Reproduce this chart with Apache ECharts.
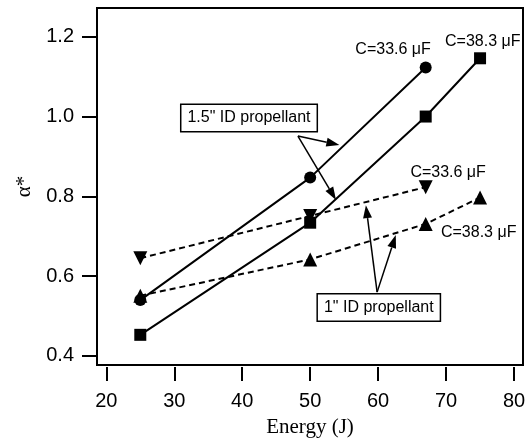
<!DOCTYPE html>
<html>
<head>
<meta charset="utf-8">
<script src="https://cdn.jsdelivr.net/npm/echarts@6/dist/echarts.min.js"></script>
<style>
html, body { margin: 0; padding: 0; background: #fff; }
#chart { width: 531px; height: 444px; }
</style>
</head>
<body>
<div id="chart"></div>
<script>
// tick labels
var xTicks = [20, 30, 40, 50, 60, 70, 80];
var yTicks = [0.4, 0.6, 0.8, 1.0, 1.2];

// 1.5" ID propellant, C=33.6 uF (circles)
var circE = [25, 50, 67];
var circA = [0.540, 0.847, 1.123];
// 1.5" ID propellant, C=38.3 uF (squares)
var sqE = [25, 50, 67, 75];
var sqA = [0.453, 0.734, 1.000, 1.146];
// 1" ID propellant, C=33.6 uF (down triangles)
var downE = [25, 50, 67];
var downA = [0.645, 0.751, 0.823];
// 1" ID propellant, C=38.3 uF (up triangles)
var upE = [25, 50, 67, 75];
var upA = [0.551, 0.642, 0.731, 0.797];

// annotations, in data coordinates
var capLabels = [
  { text: 'C=33.6 μF', x: 62.2, y: 1.169 },
  { text: 'C=38.3 μF', x: 75.4, y: 1.189 },
  { text: 'C=33.6 μF', x: 70.3, y: 0.859 },
  { text: 'C=38.3 μF', x: 74.8, y: 0.708 }
];
var boxes = [
  { text: '1.5" ID propellant', x: 41.0, y: 0.9965, from: [48.2, 0.951], to: [[54.3, 0.929], [53.8, 0.791]] },
  { text: '1" ID propellant', x: 60.1, y: 0.5216, from: [59.85, 0.560], to: [[58.2, 0.778], [62.6, 0.703]] }
];

function pairs(xs, ys) {
  return xs.map(function (x, i) { return [x, ys[i]]; });
}

var SANS = '"Liberation Sans", Arial, sans-serif';
var SERIF = '"Liberation Serif", "Times New Roman", serif';

var chart = echarts.init(document.getElementById('chart'));

function lineSeries(name, data, symbol, rotate, dashed) {
  return {
    name: name,
    type: 'line',
    data: data,
    symbol: symbol,
    symbolSize: symbol === 'triangle' ? 14 : 12,
    symbolRotate: rotate,
    showAllSymbol: true,
    animation: false,
    itemStyle: { color: '#000' },
    lineStyle: { color: '#000', width: 2, type: dashed ? [6, 4] : 'solid' }
  };
}

chart.setOption({
  animation: false,
  backgroundColor: '#fff',
  grid: {
    left: 97, right: 8, top: 8, bottom: 79,
    show: true, borderColor: '#000', borderWidth: 2, backgroundColor: 'transparent'
  },
  xAxis: {
    type: 'value',
    min: 18.63, max: 81.32,
    offset: 2,
    name: 'Energy (J)',
    nameLocation: 'middle',
    nameGap: 50,
    nameTextStyle: { fontFamily: SERIF, fontSize: 21, color: '#000' },
    axisLine: { show: false },
    axisTick: { show: true, length: 14, customValues: xTicks, lineStyle: { color: '#000', width: 2 } },
    axisLabel: { customValues: xTicks, margin: 24, fontFamily: SANS, fontSize: 20, color: '#000' },
    splitLine: { show: false }
  },
  yAxis: {
    type: 'value',
    min: 0.3774, max: 1.272,
    name: 'α*',
    nameLocation: 'middle',
    nameGap: 62,
    nameRotate: 90,
    nameTextStyle: { fontFamily: SERIF, fontSize: 21, color: '#000' },
    axisLine: { show: true, lineStyle: { color: '#000', width: 2 } },
    axisTick: { show: true, length: 15, customValues: yTicks, lineStyle: { color: '#000', width: 2 } },
    axisLabel: {
      customValues: yTicks, margin: 23, fontFamily: SANS, fontSize: 20, color: '#000',
      formatter: function (v) { return v.toFixed(1); }
    },
    splitLine: { show: false }
  },
  series: [
    lineSeries('1in 38.3', pairs(upE, upA), 'triangle', 0, true),
    lineSeries('1in 33.6', pairs(downE, downA), 'triangle', 180, true),
    lineSeries('1.5in 38.3', pairs(sqE, sqA), 'rect', 0, false),
    lineSeries('1.5in 33.6', pairs(circE, circA), 'circle', 0, false)
  ]
});

function px(p) { return chart.convertToPixel({ gridIndex: 0 }, p); }

function arrow(a, b) {
  var dx = b[0] - a[0], dy = b[1] - a[1];
  var len = Math.sqrt(dx * dx + dy * dy);
  var ux = dx / len, uy = dy / len;
  var hl = 13, hw = 4.5;
  var bx = b[0] - ux * hl, by = b[1] - uy * hl;
  return [
    { type: 'line', z: 100, shape: { x1: a[0], y1: a[1], x2: bx, y2: by }, style: { stroke: '#000', lineWidth: 1.5 } },
    { type: 'polygon', z: 100, shape: { points: [b, [bx - uy * hw, by + ux * hw], [bx + uy * hw, by - ux * hw]] }, style: { fill: '#000' } }
  ];
}

var g = [];
capLabels.forEach(function (c) {
  var p = px([c.x, c.y]);
  g.push({
    type: 'text', x: p[0], y: p[1], z: 100,
    style: { text: c.text, font: '16px ' + SANS, fill: '#000', align: 'center', verticalAlign: 'middle' }
  });
});
boxes.forEach(function (bx) {
  var p = px([bx.x, bx.y]);
  g.push({
    type: 'text', x: p[0], y: p[1], z: 100,
    style: {
      text: bx.text, font: '16px ' + SANS, fill: '#000', align: 'center', verticalAlign: 'middle',
      backgroundColor: '#fff', borderColor: '#000', borderWidth: 1.5, padding: [5, 6, 5, 6]
    }
  });
  var s = px(bx.from);
  bx.to.forEach(function (t) {
    g = g.concat(arrow(s, px(t)));
  });
});
chart.setOption({ graphic: g });
</script>
</body>
</html>
